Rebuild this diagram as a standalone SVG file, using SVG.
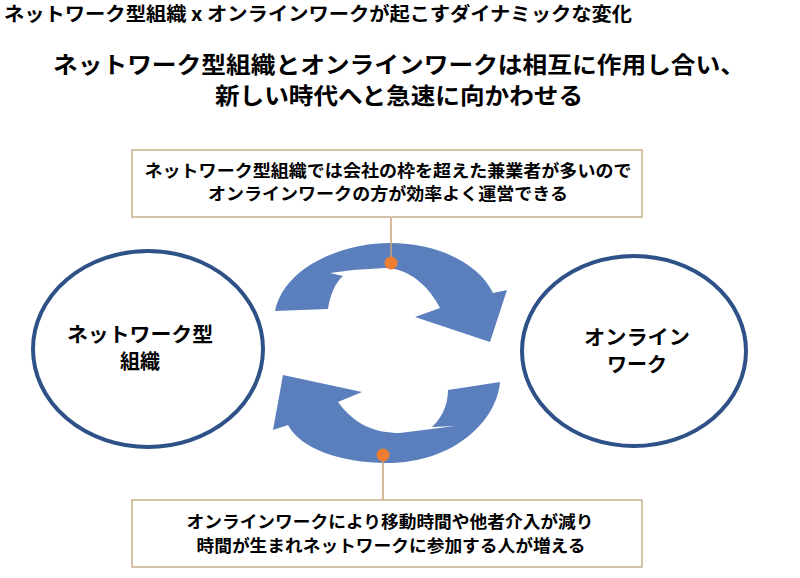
<svg xmlns="http://www.w3.org/2000/svg" width="800" height="578" viewBox="0 0 800 578">
<style>
text{font-family:"Noto Sans CJK JP","Noto Sans",sans-serif;font-weight:bold;fill:#000}
.node{fill:#fff;stroke:#2e5188;stroke-width:4}
.box{fill:#fff;stroke:#c7b08c;stroke-width:1.5}
.arrow{fill:#5b7fbd}
.lead{stroke:#c9a27a;stroke-width:1.5;fill:none}
.dot{fill:#ed7d31}
</style>
<rect width="800" height="578" fill="#fff"/>
<text x="4" y="21" font-size="19" textLength="628" lengthAdjust="spacingAndGlyphs">ネットワーク型組織 x オンラインワークが起こすダイナミックな変化</text>
<text x="399" y="73" font-size="23" text-anchor="middle" textLength="692" lengthAdjust="spacingAndGlyphs">ネットワーク型組織とオンラインワークは相互に作用し合い、</text>
<text x="399" y="104" font-size="23" text-anchor="middle" textLength="368" lengthAdjust="spacingAndGlyphs">新しい時代へと急速に向かわせる</text>
<g id="arrows">
<path class="arrow" d="M275,311 C285,265 345,243 390,243 C440,243 480,265 493,293 L507,290 L490,342 L415,317 L440,308 C430,288 410,268 385,268 L353,270 L330,273 L343,276 C335,283 330,295 328,309 Z"/>
<path class="arrow" d="M283,375 L362,392 L338,402 C355,425 375,433 400,433 L455,426 L432,427 C445,415 448,400 448,390 L500,382 C497,420 455,463 387,463 C340,463 300,448 288,425 L273,430 Z"/>
</g>
<g id="node-network">
<ellipse class="node" cx="148" cy="349" rx="115" ry="98"/>
<text x="140" y="342" font-size="20" text-anchor="middle" textLength="146" lengthAdjust="spacingAndGlyphs">ネットワーク型</text>
<text x="140" y="369" font-size="20" text-anchor="middle">組織</text>
</g>
<g id="node-online">
<ellipse class="node" cx="634" cy="351" rx="112" ry="95"/>
<text x="637" y="345" font-size="20" text-anchor="middle" textLength="106" lengthAdjust="spacingAndGlyphs">オンライン</text>
<text x="637" y="372" font-size="20" text-anchor="middle">ワーク</text>
</g>
<g id="connectors">
<line class="lead" x1="391" y1="218" x2="391" y2="263"/>
<circle class="dot" cx="391" cy="263" r="6.5"/>
<line class="lead" x1="383" y1="455" x2="383" y2="500"/>
<circle class="dot" cx="383" cy="455" r="6.5"/>
</g>
<g id="callout-top">
<rect class="box" x="132" y="150" width="510" height="67"/>
<text x="388" y="177" font-size="17" text-anchor="middle" textLength="487" lengthAdjust="spacingAndGlyphs">ネットワーク型組織では会社の枠を超えた兼業者が多いので</text>
<text x="388" y="200" font-size="17" text-anchor="middle" textLength="360" lengthAdjust="spacingAndGlyphs">オンラインワークの方が効率よく運営できる</text>
</g>
<g id="callout-bottom">
<rect class="box" x="132" y="500" width="510" height="67"/>
<text x="390" y="528" font-size="17" text-anchor="middle" textLength="407" lengthAdjust="spacingAndGlyphs">オンラインワークにより移動時間や他者介入が減り</text>
<text x="391" y="552" font-size="17" text-anchor="middle" textLength="389" lengthAdjust="spacingAndGlyphs">時間が生まれネットワークに参加する人が増える</text>
</g>
</svg>
